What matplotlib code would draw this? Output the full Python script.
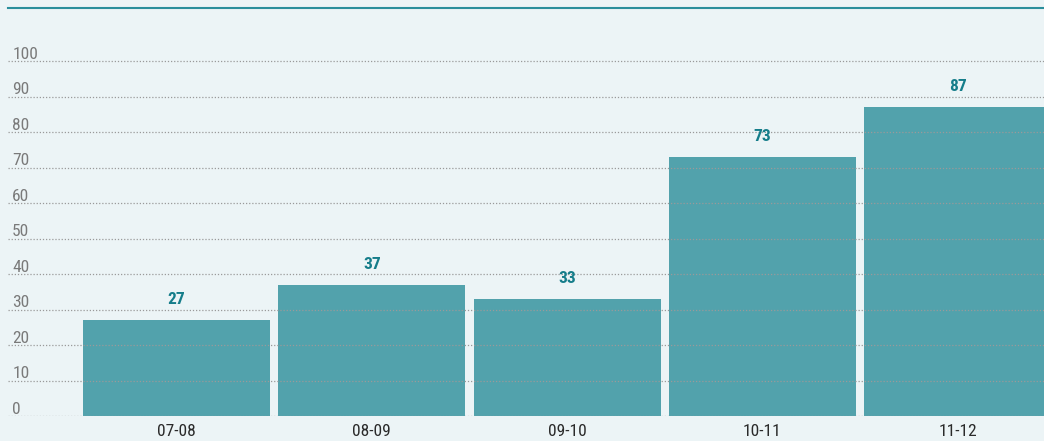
import matplotlib
matplotlib.use('Agg')
from matplotlib import pyplot as plt
import matplotlib.transforms as mtransforms
import numpy as np

periods = ['07-08', '08-09', '09-10', '10-11', '11-12']
values = [27, 37, 33, 73, 87]
yticks = [0, 10, 20, 30, 40, 50, 60, 70, 80, 90, 100]

bg = '#ecf4f6'
bar_color = '#52a2ac'
label_color = '#157d8a'
font = ['Roboto Condensed', 'DejaVu Sans']

fig = plt.figure(figsize=(10.44, 4.41), dpi=100, facecolor=bg)
ax = fig.add_axes([8 / 1044, 25 / 441, 1036 / 1044, 408 / 441])
ax.set_facecolor(bg)

x = np.arange(len(periods))
ax.bar(x, values, width=0.957, color=bar_color, zorder=1)

# dotted grid, over the bars
for t in yticks:
    ax.axhline(t, color='#9a9a9a', linestyle=(0, (1, 1.5)), linewidth=0.9, zorder=3)

ytrans = mtransforms.blended_transform_factory(ax.transAxes, ax.transData)
for t in yticks:
    ax.text(0.004, t + 0.7, str(t), transform=ytrans, ha='left', va='baseline',
            fontsize=12.5, color='#7a7a7a', family=font)

for xi, v in zip(x, values):
    ax.text(xi, v + 4.5, str(v), ha='center', va='baseline', fontsize=12.5,
            fontweight='bold', color=label_color, family=font)

ax.set_xlim(-0.863, 4.442)
ax.set_ylim(0, 115)
ax.set_xticks(x)
ax.set_xticklabels(periods, fontsize=12.5, color='#2a2a2a', family=font)
ax.tick_params(axis='x', length=0, pad=6)
ax.set_yticks([])
for s in ['left', 'right', 'bottom']:
    ax.spines[s].set_visible(False)
ax.spines['top'].set_color('#2a8f9c')
ax.spines['top'].set_linewidth(1.5)

plt.savefig('out.png', dpi=100, facecolor=bg)
